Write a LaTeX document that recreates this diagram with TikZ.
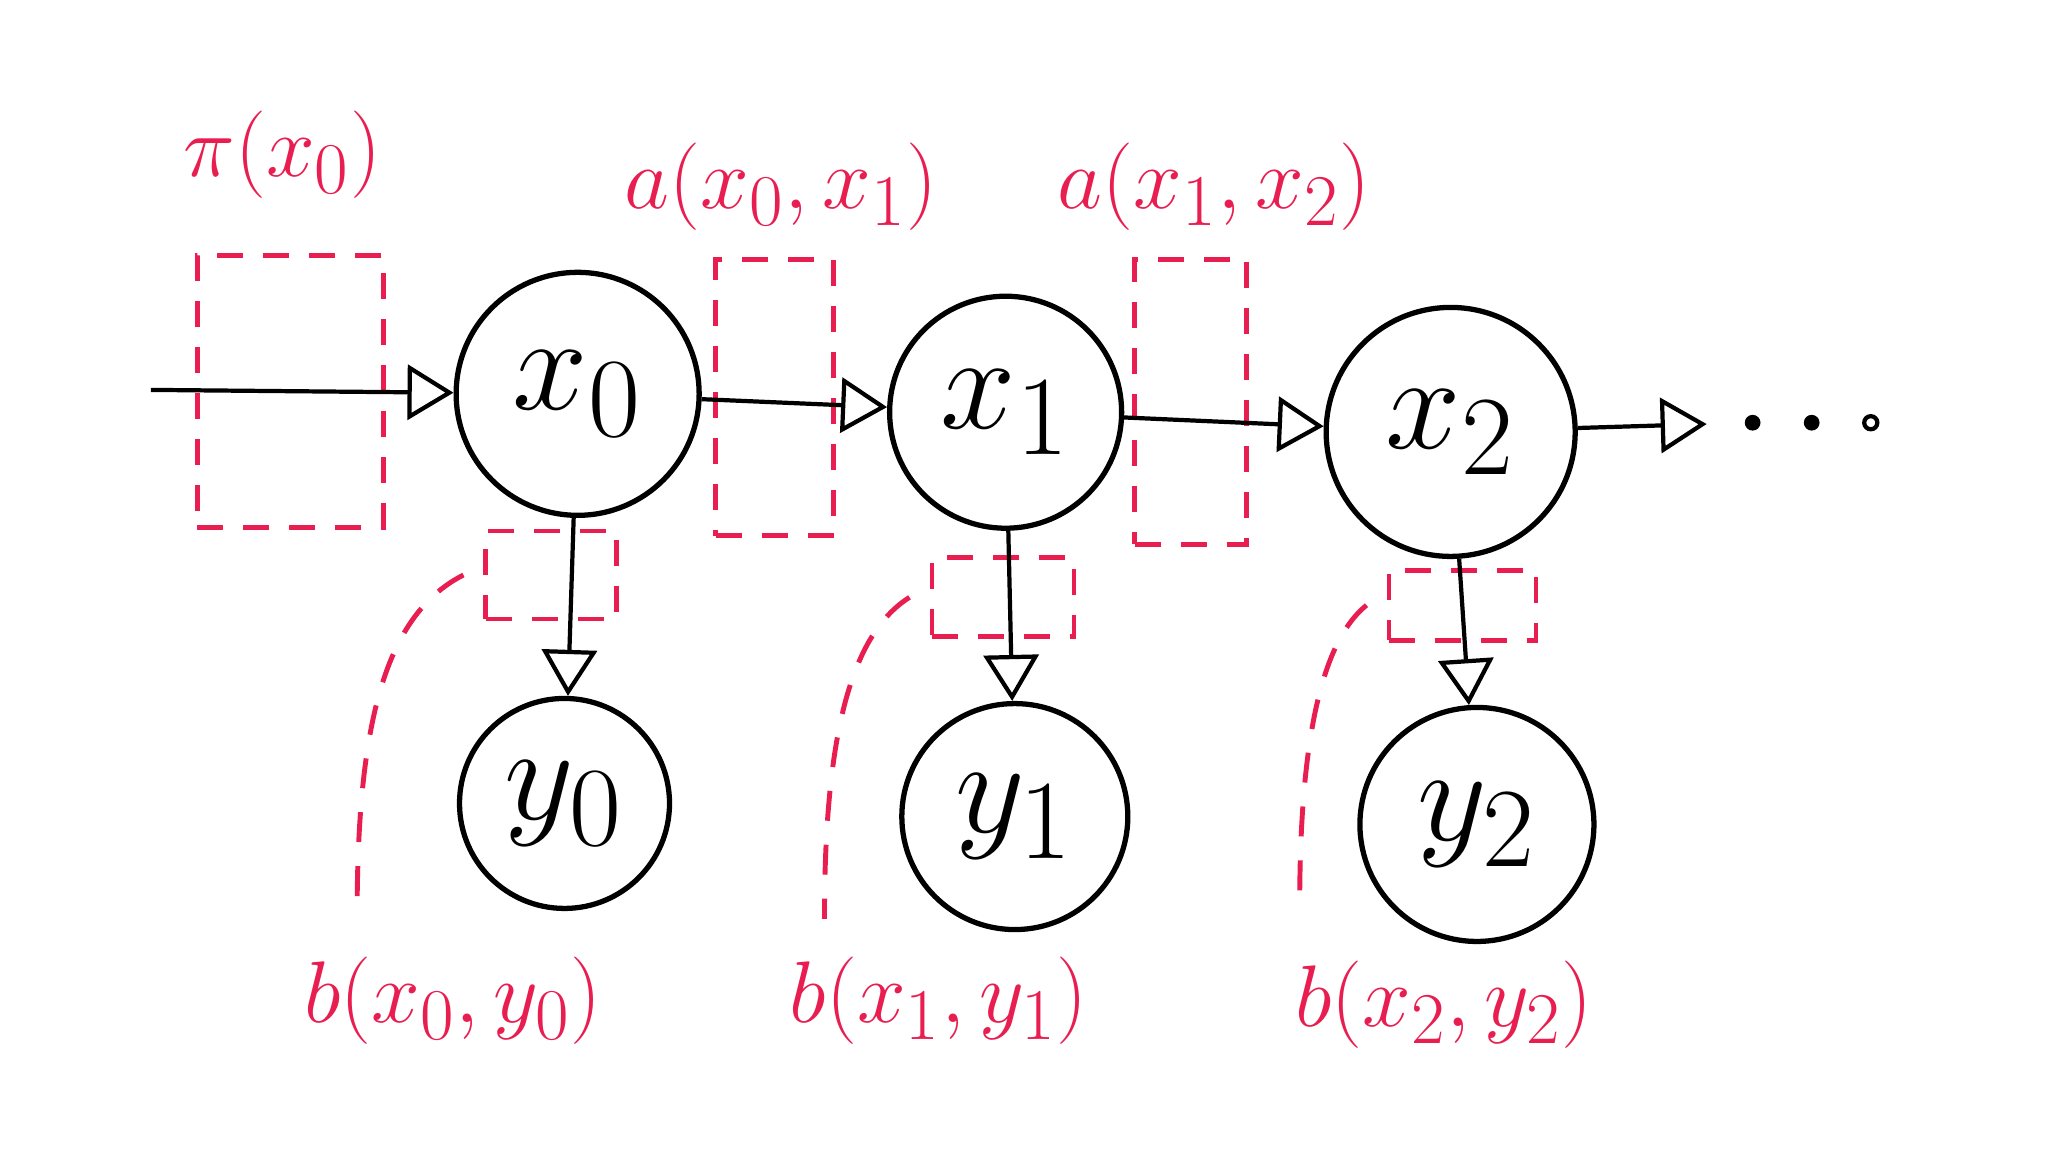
\documentclass[tikz,border=0pt]{standalone}
\usepackage{amsmath}
\usepackage{graphicx}
\usepackage{xcolor}
\usetikzlibrary{arrows.meta, positioning}
\definecolor{inkred}{RGB}{233,30,80}
\newcommand{\bigsym}[1]{\scalebox{1.55}{$#1$}}

\begin{document}
\begin{tikzpicture}[x=0.13128mm, y=-0.13128mm,
        state/.style={circle, draw, line width=1.5pt, inner sep=0pt, font=\Huge},
        flow/.style={line width=1.2pt, -{Triangle[open, length=0.46cm, width=0.55cm, line width=1.2pt]}},
        factor/.style={draw=inkred, line width=1.4pt, dash pattern=on 0.26cm off 0.2cm, inner sep=0pt},
        link/.style={draw=inkred, line width=1.4pt, dash pattern=on 0.3cm off 0.24cm},
        lab/.style={text=inkred, font=\Huge}]
            \useasboundingbox (0,0) rectangle (1560,877.5);
            % factor boxes
            \node[factor, minimum width=1.86cm, minimum height=2.72cm] (pibox) at (221,298) {};
            \node[factor, minimum width=1.18cm, minimum height=2.76cm] (abox01) at (590,303) {};
            \node[factor, minimum width=1.12cm, minimum height=2.85cm] (abox12) at (907,306) {};
            \node[factor, minimum width=1.31cm, minimum height=0.88cm] (bbox0) at (420,438) {};
            \node[factor, minimum width=1.42cm, minimum height=0.79cm] (bbox1) at (764,455) {};
            \node[factor, minimum width=1.47cm, minimum height=0.70cm] (bbox2) at (1114,461) {};
            % hidden states
            \node[state, minimum size=2.43cm] (x0) at (440,300) {\bigsym{x_0}};
            \node[state, minimum size=2.32cm] (x1) at (766,314) {\bigsym{x_1}};
            \node[state, minimum size=2.49cm] (x2) at (1105,329) {\bigsym{x_2}};
            % observations
            \node[state, minimum size=2.10cm] (y0) at (430,612) {\bigsym{y_0}};
            \node[state, minimum size=2.26cm] (y1) at (773,622) {\bigsym{y_1}};
            \node[state, minimum size=2.34cm] (y2) at (1125,628) {\bigsym{y_2}};
            % labels
            \node[lab] (lpi) at (215,118) {$\pi(x_0)$};
            \node[lab] (la01) at (595,142) {$a(x_0,x_1)$};
            \node[lab] (la12) at (925,142) {$a(x_1,x_2)$};
            \node[lab] (lb0) at (345,762) {$b(x_0,y_0)$};
            \node[lab] (lb1) at (715,762) {$b(x_1,y_1)$};
            \node[lab] (lb2) at (1100,765) {$b(x_2,y_2)$};
            \coordinate (in) at (115,297);
            \coordinate (out) at (1300,323);
            \coordinate (e0) at (272,700);
            \coordinate (e1) at (628,700);
            \coordinate (e2) at (990,690);
            % chain
            \draw[flow] (in) -- (x0);
            \draw[flow] (x0) -- (x1);
            \draw[flow] (x1) -- (x2);
            \draw[flow] (x2) -- (out);
            \draw[flow] (x0) -- (y0);
            \draw[flow] (x1) -- (y1);
            \draw[flow] (x2) -- (y2);
            \fill (1335,322) circle (6) (1380,322) circle (6);
            \draw[line width=1.2pt] (1425,322) circle (5);
            % emission links
            \draw[link] ([xshift=-0.2cm]bbox0.west) .. controls (290,470) and (272,560) .. (e0);
            \draw[link] ([xshift=-0.2cm]bbox1.west) .. controls (645,485) and (628,570) .. (e1);
            \draw[link] ([xshift=-0.2cm]bbox2.west) .. controls (1005,490) and (990,570) .. (e2);
\end{tikzpicture}
\end{document}
